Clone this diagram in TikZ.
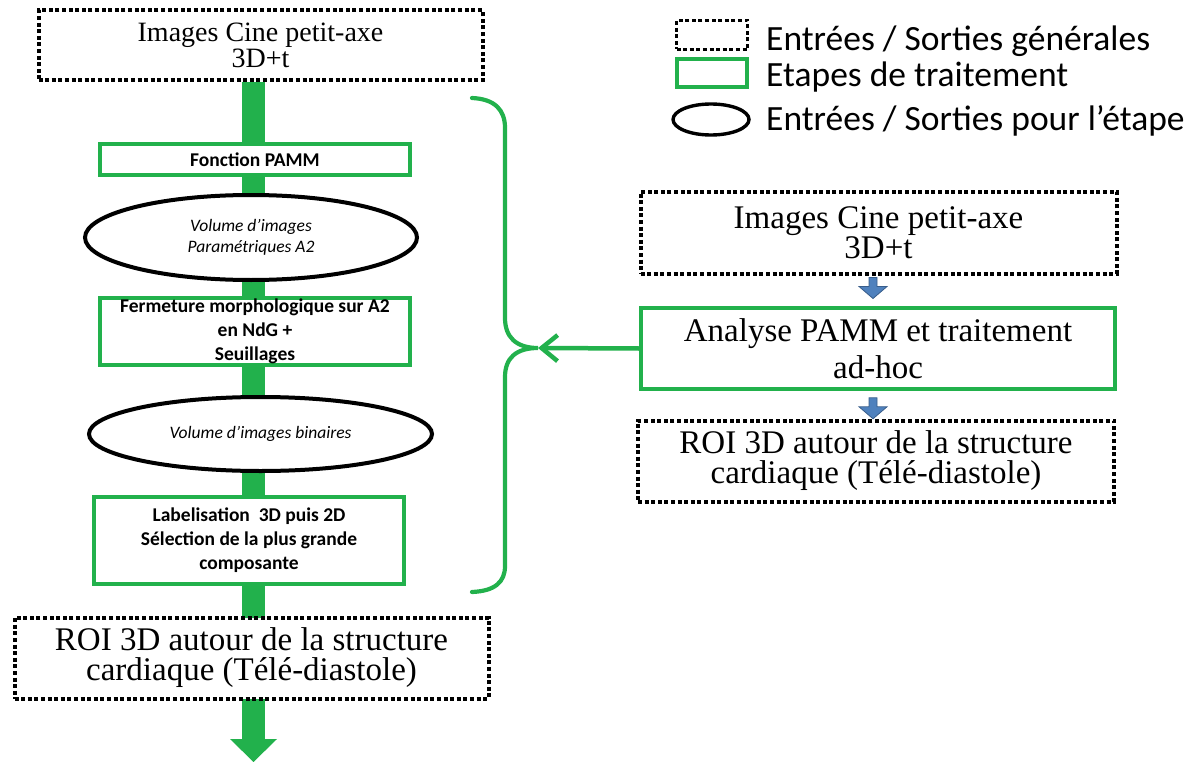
\documentclass[tikz,border=0pt]{standalone}
\usepackage{fontspec}
\setmainfont{Liberation Serif}
\newfontfamily\calib{Carlito}
\usepackage{tikz}
\usetikzlibrary{arrows.meta,calc}

\definecolor{stepgreen}{RGB}{34,177,76}
\definecolor{arrowblue}{RGB}{79,129,189}
\definecolor{arrowblueline}{RGB}{56,93,138}

\tikzset{
    iobox/.style={draw=black, line width=4pt, dash pattern=on 4pt off 2.6pt, fill=white,
        inner sep=0pt, align=center},
    stepbox/.style={draw=stepgreen, line width=3.6pt, fill=white, inner sep=0pt, align=center,
        font=\calib\bfseries\fontsize{19.5}{24}\selectfont},
    ioellipse/.style={draw=black, ellipse, line width=4pt, fill=white, inner sep=0pt, align=center,
        font=\calib\itshape\fontsize{17.5}{21}\selectfont},
    brace/.style={draw=stepgreen, line width=4.2pt, line cap=round},
    feedback/.style={draw=stepgreen, line width=4.5pt, -{Straight Barb[length=16pt,width=26pt,line width=4.5pt]}},
    legendtext/.style={anchor=base west, inner sep=0pt, font=\calib\fontsize{35.5}{35.5}\selectfont}
}
\usetikzlibrary{shapes.geometric}

% small blue block arrow hanging below a point
\newcommand{\bluedown}[1]{%
    \filldraw[fill=arrowblue, draw=arrowblueline, line width=0.8pt]
        #1 ++(-4,0) -- ++(8,0) -- ++(0,9) -- ++(10,0) -- ++(-14,12) -- ++(-14,-12) -- ++(10,0) -- cycle;}

\begin{document}
\begin{tikzpicture}[x=1pt, y=-1pt]
    \useasboundingbox (0,0) rectangle (1190,762);

    % backbone of the left column
    \coordinate (stemtop) at (253.5,82);
    \coordinate (stemhead) at (253.5,739);
    \draw[stepgreen, line width=23pt] (stemtop) -- (stemhead);
    \fill[stepgreen] (stemhead) ++(-23.5,0) -- ++(47,0) -- ++(-23.5,23) -- cycle;

    % left column
    \node[iobox, minimum width=444pt, minimum height=70pt, font=\fontsize{28}{24}\selectfont]
        (tlin) at (260.5,45.5) {Images Cine petit-axe\\3D+t};
    \node[stepbox, minimum width=310pt, minimum height=31pt] (fpamm) at (255,159.5) {Fonction PAMM};
    \node[ioellipse, minimum width=332pt, minimum height=85pt] (volA) at (251,237.5)
        {Volume d’images\\Paramétriques A2};
    \node[stepbox, minimum width=310pt, minimum height=67pt] (ferm) at (255,331.5)
        {Fermeture morphologique sur A2\\en NdG +\\Seuillages};
    \node[ioellipse, minimum width=343pt, minimum height=74pt] (volbin) at (260.5,434)
        {Volume d’images binaires};
    \node[stepbox, minimum width=310pt, minimum height=87pt] (labl) at (249,540.5)
        {Labelisation \ 3D puis 2D\\Sélection de la plus grande\\composante};
    \node[iobox, minimum width=474pt, minimum height=81pt, font=\fontsize{33}{30}\selectfont]
        (roiL) at (251.5,658) {ROI 3D autour de la structure\\cardiaque (Télé-diastole)};

    % brace round the processing steps
    \coordinate (tip) at (538,348);
    \draw[brace] (472,98) .. controls (495,99) and (505,110) .. (505,128) -- (505,318)
        .. controls (505,337) and (516,348) .. (tip)
        .. controls (516,348) and (505,358) .. (505,377) -- (505,566)
        .. controls (505,582) and (495,591) .. (472,592);

    % right column
    \node[iobox, minimum width=476pt, minimum height=82pt, font=\fontsize{33}{30}\selectfont]
        (rin) at (878.5,232.5) {Images Cine petit-axe\\3D+t};
    \node[stepbox, minimum width=474pt, minimum height=81pt, font=\fontsize{33}{37}\selectfont]
        (analyse) at (878,348.5) {Analyse PAMM et traitement\\ad-hoc};
    \node[iobox, minimum width=476pt, minimum height=81pt, font=\fontsize{33}{30}\selectfont]
        (roiR) at (876,461) {ROI 3D autour de la structure\\cardiaque (Télé-diastole)};

    \bluedown{($(rin.south)+(-5.5,2)$)}
    \bluedown{($(analyse.south)+(-5,7)$)}
    \draw[feedback] (analyse.west) -- (tip);

    % legend
    \node[iobox, minimum width=71pt, minimum height=29pt, line width=3.4pt] (lgio) at (712,35) {};
    \node[stepbox, minimum width=70pt, minimum height=28pt] (lgstep) at (712,73) {};
    \node[ioellipse, minimum width=76pt, minimum height=31pt, line width=3.4pt] (lgell) at (711,119.5) {};
    \node[legendtext] (lgiotext) at (766,51) {Entrées / Sorties générales};
    \node[legendtext] (lgsteptext) at (766,87) {Etapes de traitement};
    \node[legendtext] (lgelltext) at (766,131) {Entrées / Sorties pour l’étape};
\end{tikzpicture}
\end{document}
